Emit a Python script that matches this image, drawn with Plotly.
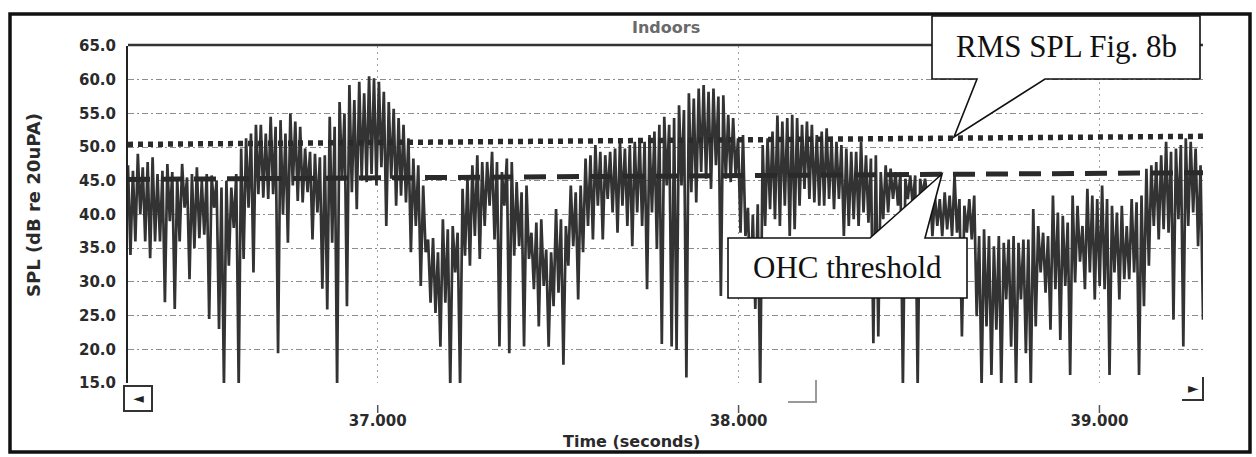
import numpy as np
import plotly.graph_objects as go

# Time window shown (seconds)
T_START, T_END = 36.308, 39.287

# Alternating maxima / minima of the indoor SPL trace (dB re 20 uPa), one pair per cycle
peak_db = [
    47.3, 46.5, 49.0, 47.0, 47.8, 48.5, 46.0, 46.5, 47.5, 46.3, 45.5, 47.5,
    45.5, 46.0, 47.0, 45.0, 46.0, 45.8, 45.0, 44.0, 45.0, 44.0, 46.0, 49.8,
    51.3, 52.0, 53.3, 53.3, 52.0, 54.5, 53.0, 54.0, 52.0, 55.0, 53.8, 53.0,
    49.8, 49.3, 49.0, 48.5, 48.8, 54.5, 53.0, 56.7, 55.0, 59.2, 57.0, 59.7,
    58.0, 60.5, 60.2, 59.7, 58.2, 56.7, 55.7, 54.3, 53.3, 51.3, 48.3, 47.3,
    44.3, 36.3, 36.5, 34.4, 39.3, 37.8, 38.3, 37.3, 43.8, 45.3, 47.3, 48.8,
    47.8, 47.8,
    49.3, 47.8, 46.3, 48.3, 47.8, 44.8, 43.3, 44.3, 37.3, 38.8, 39.3, 34.8,
    34.4, 40.8, 39.3, 38.3, 44.3, 43.3, 44.3, 48.3, 48.8, 50.3, 49.3, 48.8,
    49.3, 49.8, 50.8, 49.8, 50.3, 50.8, 51.3, 50.8, 51.8, 52.3, 53.3, 54.5,
    53.3,
    54.3, 56.2, 55.5, 58.0, 57.2, 58.7, 59.2, 58.2, 58.7, 57.5, 57.7, 54.8,
    54.3, 51.3, 51.8, 41.0, 40.0, 41.5, 50.3, 51.3, 52.3, 54.7, 53.8, 54.3,
    54.8, 54.3, 53.3, 53.8, 53.3, 51.8, 52.3, 52.8, 51.3, 50.8, 50.3, 49.8,
    49.3,
    49.3, 50.8, 48.8, 48.3, 48.8, 46.3, 47.3, 46.8, 46.3, 46.3, 45.3, 45.8,
    45.8, 45.3, 45.3, 44.3, 42.8, 42.3, 43.3, 42.8, 45.8, 42.3, 41.3, 42.3,
    42.8, 36.8, 37.8, 36.8, 35.3, 36.8, 35.8, 36.3, 36.8, 35.8, 36.3, 36.3,
    40.8, 38.3, 37.3, 36.8, 42.8, 40.3, 39.8, 38.8, 42.8, 41.3, 38.3, 43.8,
    42.8, 42.3, 44.3, 42.3, 41.3, 40.3, 41.3, 38.3, 42.3, 41.8, 42.8, 46.8,
    47.3, 47.8, 48.8, 50.8, 49.3, 49.8, 50.3, 51.3, 50.8, 49.8, 47.3,
]
trough_db = [
    34.0, 36.0, 40.0, 36.0, 33.5, 36.0, 36.0, 27.0, 39.0, 26.0, 36.0, 41.0,
    30.4, 35.0, 36.5, 37.0, 24.5, 41.0, 23.0, 14.5, 32.4, 38.0, 14.5, 33.4,
    41.0, 31.4, 43.0, 42.5, 42.3, 43.0, 19.4, 40.0, 35.8, 44.3, 42.0, 41.8,
    43.3, 36.3, 40.3, 29.0, 25.9, 35.8, 14.5, 45.3, 26.4, 43.3, 40.8, 45.5,
    44.8, 46.0, 44.3, 47.0, 38.3, 45.3, 41.3, 42.8, 41.8, 34.4, 38.3, 29.4,
    34.4, 26.9, 25.4, 20.4, 26.9, 14.5, 31.4, 14.5, 33.9, 32.4, 36.8, 33.4,
    38.3, 41.3,
    36.3, 20.4, 41.3, 19.4, 33.9, 35.3, 20.4, 33.4, 28.9, 23.4, 29.4, 20.4,
    26.4, 28.4, 17.7, 32.4, 35.3, 27.4, 34.4, 38.3, 36.3, 41.3, 36.3, 42.3,
    40.3, 37.3, 41.3, 38.3, 35.3, 40.3, 38.3, 28.9, 40.3, 34.9, 20.8, 44.3,
    20.4,
    19.9, 44.3, 15.8, 43.3, 41.8, 46.3, 45.3, 43.8, 47.3, 27.9, 45.3, 44.8,
    45.8, 37.3, 36.8, 28.0, 26.0, 14.5, 38.3, 40.8, 39.3, 38.3, 41.3, 36.8,
    37.8, 41.3, 43.8, 42.3, 41.8, 41.3, 41.3, 42.3, 40.8, 42.3, 36.8, 38.3,
    39.3,
    38.3, 40.3, 38.8, 20.9, 21.9, 39.3, 40.3, 42.3, 41.3, 14.5, 42.3, 41.3,
    14.5, 42.8, 42.3, 36.8, 38.3, 36.8, 37.8, 36.8, 37.3, 21.9, 37.3, 36.3,
    24.9, 14.5, 23.4, 16.2, 22.9, 14.5, 27.4, 20.4, 14.5, 27.4, 19.4, 14.5,
    23.4, 31.4, 28.4, 22.9, 28.9, 21.4, 29.4, 16.2, 29.9, 33.0, 28.9, 31.4,
    27.4, 29.4, 28.9, 16.2, 31.4, 27.4, 30.4, 30.4, 31.4, 16.2, 26.4, 32.4,
    38.3, 36.3, 37.8, 37.3, 24.4, 39.3, 20.4, 38.3, 40.3, 35.3, 24.4,
]

# Reference levels across the window (start, end)
rms_level = [50.4, 51.6]
ohc_level = [45.2, 46.2]

y_ticks = [15, 20, 25, 30, 35, 40, 45, 50, 55, 60, 65]
x_ticks = [37, 38, 39]
x_tick_text = ["37.000", "38.000", "39.000"]

n = min(len(peak_db), len(trough_db))
spl = np.empty(2 * n)
spl[0::2] = peak_db[:n]
spl[1::2] = trough_db[:n]
t = np.linspace(T_START, T_END, 2 * n)

# plot-area geometry in pixels
L, R, T, B = 128, 1203, 46, 383
W, H = 1256, 457


def fx(x):
    return (x - L) / (R - L)


def fy(y):
    return (B - y) / (B - T)


def polyline(points, close=False):
    s = "M " + " L ".join(f"{fx(x):.5f},{fy(y):.5f}" for x, y in points)
    return s + (" Z" if close else "")


fig = go.Figure()

fig.add_trace(go.Scatter(
    x=t, y=spl, mode="lines",
    line=dict(color="#333333", width=2.7),
    hoverinfo="skip", showlegend=False,
))
fig.add_trace(go.Scatter(
    x=[T_START, T_END], y=ohc_level, mode="lines",
    line=dict(color="#2a2a2a", width=5, dash="22px,11px"),
    hoverinfo="skip", showlegend=False,
))
fig.add_trace(go.Scatter(
    x=[T_START, T_END], y=rms_level, mode="lines",
    line=dict(color="#2a2a2a", width=5.5, dash="5px,5px"),
    hoverinfo="skip", showlegend=False,
))

tick_font = dict(family="DejaVu Sans", size=15, color="#2a2a2a", weight="bold")

fig.update_layout(
    width=W, height=H,
    margin=dict(l=L, r=W - R, t=T, b=H - B),
    paper_bgcolor="white", plot_bgcolor="white",
    xaxis=dict(
        range=[T_START, T_END], tickvals=x_ticks, ticktext=x_tick_text,
        tickfont=tick_font, ticklabelstandoff=27,
        showgrid=True, gridcolor="#a0a0a0", gridwidth=1, griddash="2px,4px",
        zeroline=False, showline=False, ticks="",
    ),
    yaxis=dict(
        range=[15, 65], tickvals=y_ticks, tickformat=".1f",
        tickfont=tick_font, ticklabelstandoff=7,
        showgrid=True, gridcolor="#8c8c8c", gridwidth=1, griddash="6px,3px,2px,3px",
        zeroline=False, showline=True, linecolor="#222", linewidth=2, ticks="",
    ),
)

shapes = [
    # outer frame
    dict(type="rect", xref="paper", yref="paper",
         x0=fx(10), x1=fx(1250), y0=fy(452), y1=fy(14),
         line=dict(color="#111", width=3.5)),
    # top edge of the plot area
    dict(type="line", xref="paper", yref="paper",
         x0=fx(128), x1=fx(1203), y0=fy(45), y1=fy(45),
         line=dict(color="#333", width=2.5)),
    # left scroll button
    dict(type="rect", xref="paper", yref="paper",
         x0=fx(124), x1=fx(152), y0=fy(411), y1=fy(386),
         line=dict(color="#333", width=2)),
    # right scroll button
    dict(type="path", xref="paper", yref="paper",
         path=polyline([(1182, 400), (1203, 400), (1203, 377)]),
         line=dict(color="#333", width=2)),
    # scrollbar thumb corner
    dict(type="path", xref="paper", yref="paper",
         path=polyline([(788, 402), (816, 402), (816, 380)]),
         line=dict(color="#999", width=2)),
    # callout: RMS SPL
    dict(type="path", xref="paper", yref="paper", layer="above",
         path=polyline([(932, 16), (1200, 16), (1200, 79), (1045, 79), (954, 137),
                        (977, 79), (932, 79)], close=True),
         fillcolor="white", line=dict(color="#111", width=1.6)),
    # callout: OHC threshold
    dict(type="path", xref="paper", yref="paper", layer="above",
         path=polyline([(728, 238), (870, 238), (942, 174), (925, 238), (967, 238),
                        (967, 298), (728, 298)], close=True),
         fillcolor="white", line=dict(color="#111", width=1.6)),
]
for xt in x_ticks:
    shapes.append(dict(type="line", xref="x", yref="paper", x0=xt, x1=xt,
                       y0=fy(405), y1=fy(413), line=dict(color="#555", width=1.5)))
fig.update_layout(shapes=shapes)


def label(text, x, y, font, angle=0):
    return dict(text=text, xref="paper", yref="paper", x=fx(x), y=fy(y),
                xanchor="center", yanchor="middle", textangle=angle,
                showarrow=False, font=font)


serif = dict(family="Liberation Serif", size=31, color="#111")
annotations = [
    label("Indoors", 666, 28,
          dict(family="DejaVu Sans", size=16, color="#6a6a6a", weight="bold")),
    label("Time (seconds)", 631, 441,
          dict(family="DejaVu Sans", size=16, color="#2a2a2a", weight="bold")),
    label("SPL (dB re 20uPA)", 33, 205,
          dict(family="DejaVu Sans", size=18, color="#2a2a2a", weight="bold"), angle=-90),
    label("RMS SPL Fig. 8b", 1066, 46, serif),
    label("OHC threshold", 847, 267, serif),
    label("◄", 138, 398, dict(family="DejaVu Sans", size=14, color="#222")),
    label("►", 1193, 388, dict(family="DejaVu Sans", size=14, color="#222")),
]
fig.update_layout(annotations=annotations)

fig.write_html("out.html")
